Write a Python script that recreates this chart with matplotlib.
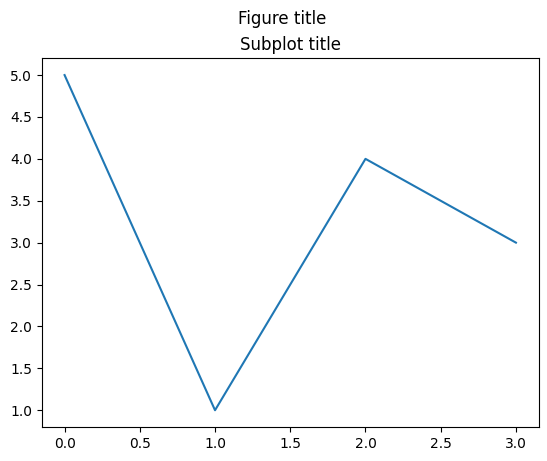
import matplotlib
matplotlib.use("Agg")
import matplotlib.pyplot as plt

x = [0, 1, 2, 3]
y = [5, 1, 4, 3]

fig = plt.figure(figsize=(5.47, 4.61), dpi=100)
ax = fig.add_axes([42/547, 1-427/461, (538.5-42)/547, (427-58.3)/461])
ax.plot(x, y)
ax.set_title("Subplot title")
fig.suptitle("Figure title", x=282/547, y=1-10/461, va="top")
fig.savefig("out.png", dpi=100)
